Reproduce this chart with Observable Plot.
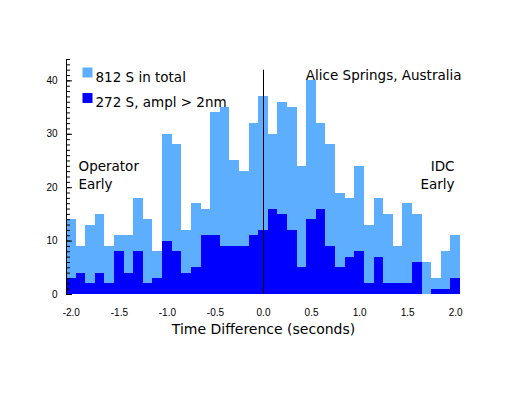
<!DOCTYPE html>
<html><head><meta charset="utf-8">
<script src="https://cdn.jsdelivr.net/npm/d3@7"></script>
<script src="https://cdn.jsdelivr.net/npm/@observablehq/plot@0.6"></script>
<style>body{margin:0;background:#fff}#chart svg{display:block}</style>
</head><body><div id="chart"></div>
<script>
const binCenters = [-2.0,-1.9,-1.8,-1.7,-1.6,-1.5,-1.4,-1.3,-1.2,-1.1,-1.0,-0.9,-0.8,-0.7,-0.6,-0.5,-0.4,-0.3,-0.2,-0.1,0.0,0.1,0.2,0.3,0.4,0.5,0.6,0.7,0.8,0.9,1.0,1.1,1.2,1.3,1.4,1.5,1.6,1.7,1.8,1.9,2.0];
const totalCounts = [14,9,13,15,9,11,11,18,14,8,30,28,12,17,16,34,35,25,23,32,37,30,36,35,24,40,32,28,19,18,24,13,18,15,9,17,15,6,3,8,11];
const largeCounts = [3,4,2,4,2,8,4,8,2,3,10,8,4,5,11,11,9,9,9,11,12,16,15,12,5,14,16,9,5,7,8,2,7,2,2,2,6,0,1,1,3];
const xTickLabels = [-2.0,-1.5,-1.0,-0.5,0.0,0.5,1.0,1.5,2.0];
const yTickLabels = [0,10,20,30,40];
const legendLabels = ["812 S in total", "272 S, ampl > 2nm"];
const stationLabel = "Alice Springs, Australia";
const xAxisTitle = "Time Difference (seconds)";

const lightBlue = "#5eaeff";
const darkBlue = "#0000ff";
const tickFont = "Liberation Sans, Arial, Helvetica, sans-serif";
const textFont = "DejaVu Sans, Verdana, sans-serif";
const binWidth = 0.1;
const bins = binCenters.map((c, i) => ({x1: c - binWidth / 2, x2: c + binWidth / 2, total: totalCounts[i], large: largeCounts[i]}));
const xDomain = [binCenters[0] - binWidth / 2, binCenters[binCenters.length - 1] + binWidth / 2];
const yMinorTicks = d3.range(0, 45, 1);
const noLabel = () => "";

const chart = Plot.plot({
  width: 509,
  height: 393,
  marginLeft: 66,
  marginRight: 49,
  marginTop: 59,
  marginBottom: 99,
  style: {fontFamily: tickFont, background: "#fff", color: "#000"},
  x: {domain: xDomain},
  y: {domain: [0, 44]},
  marks: [
    Plot.rectY(bins, {x1: "x1", x2: "x2", y: "total", fill: lightBlue, shapeRendering: "crispEdges"}),
    Plot.rectY(bins, {x1: "x1", x2: "x2", y: "large", fill: darkBlue, shapeRendering: "crispEdges"}),
    Plot.ruleX([0], {y1: 0, y2: 42, stroke: "#000", strokeWidth: 1}),
    Plot.ruleX([xDomain[0]], {y1: 0, y2: 44, stroke: "#000"}),
    Plot.axisY({ticks: yMinorTicks, tickSize: -4, tickFormat: noLabel, label: null}),
    Plot.axisY({ticks: yTickLabels, tickSize: -6, tickFormat: noLabel, label: null}),
    Plot.axisY({ticks: yTickLabels, tickSize: 0, tickPadding: 9, fontSize: 10, label: null}),
    Plot.axisX({ticks: xTickLabels, tickSize: 0, tickPadding: 14, fontSize: 10, tickFormat: d => d.toFixed(1), label: null}),
    Plot.text([xAxisTitle], {frameAnchor: "bottom", dy: 39, fontSize: 14, fontFamily: textFont, fill: "#000"}),
    Plot.dot([legendLabels[0]], {frameAnchor: "top-left", dx: 21, dy: 13, symbol: "square", r: 5.64, fill: lightBlue, stroke: null}),
    Plot.dot([legendLabels[1]], {frameAnchor: "top-left", dx: 21, dy: 38.5, symbol: "square", r: 5.64, fill: darkBlue, stroke: null}),
    Plot.text([legendLabels[0]], {frameAnchor: "top-left", dx: 29, dy: 12.5, textAnchor: "start", fontSize: 13.5, fontFamily: textFont, fill: "#000"}),
    Plot.text([legendLabels[1]], {frameAnchor: "top-left", dx: 29, dy: 38, textAnchor: "start", fontSize: 13.5, fontFamily: textFont, fill: "#000"}),
    Plot.text([stationLabel], {frameAnchor: "top-right", dx: 1, dy: 10.5, textAnchor: "end", fontSize: 13.5, fontFamily: textFont, fill: "#000"}),
    Plot.text(["Operator\nEarly"], {frameAnchor: "top-left", dx: 12, dy: 115, textAnchor: "start", lineAnchor: "middle", lineHeight: 1.35, fontSize: 13.5, fontFamily: textFont, fill: "#000"}),
    Plot.text(["IDC\nEarly"], {frameAnchor: "top-right", dx: -6, dy: 115, textAnchor: "end", lineAnchor: "middle", lineHeight: 1.35, fontSize: 13.5, fontFamily: textFont, fill: "#000"})
  ]
});
document.getElementById("chart").appendChild(chart);
</script>
</body></html>
